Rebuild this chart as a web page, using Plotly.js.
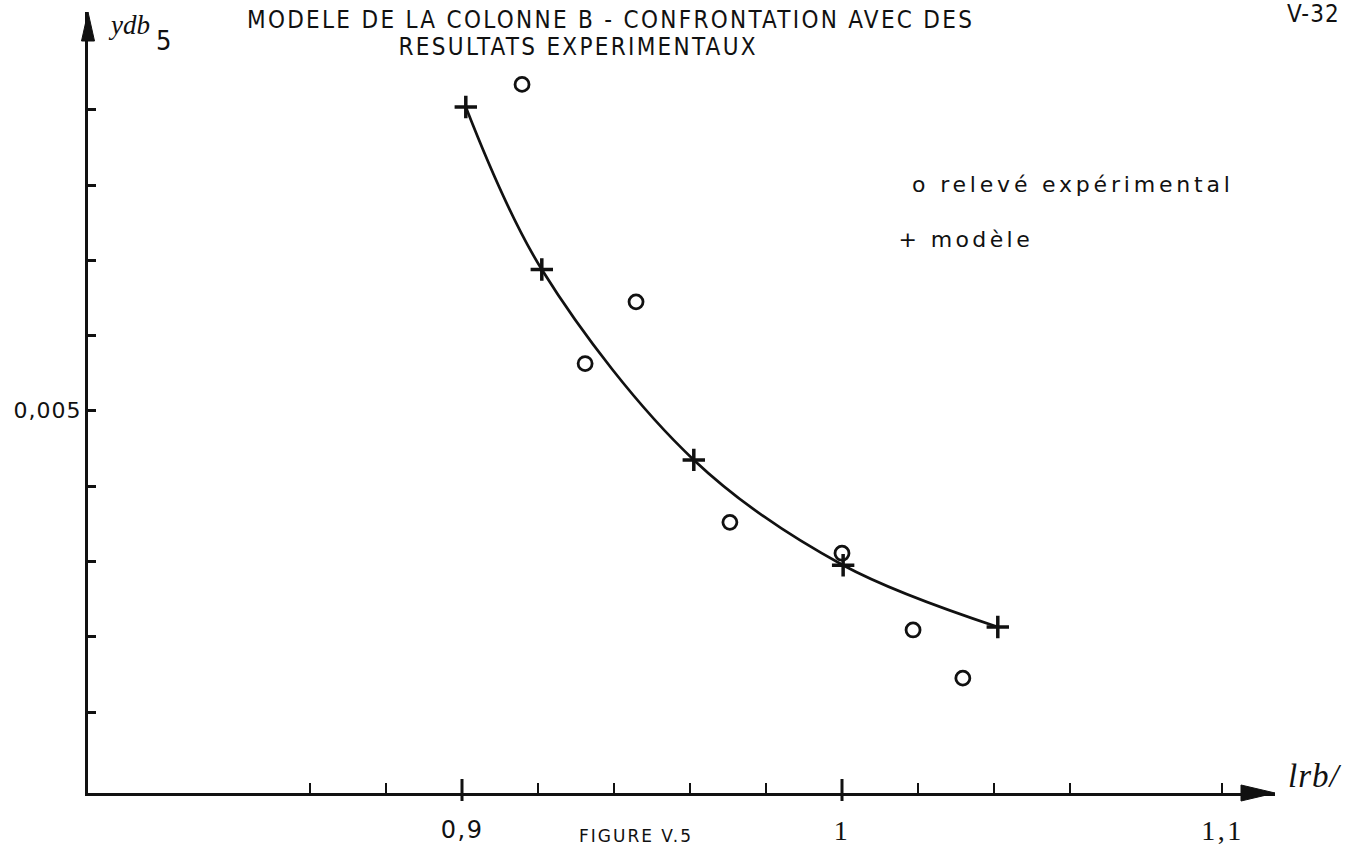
<!DOCTYPE html>
<html><head><meta charset="utf-8">
<script src="https://cdn.plot.ly/plotly-3.0.1.min.js"></script>
<style>html,body{margin:0;padding:0;background:#fff;overflow:hidden}#chart{width:1353px;height:849px}</style>
</head><body><div id="chart"></div>
<script>
// ---- data ----
const modelX = [0.901, 0.921, 0.961, 1.0003, 1.041];
const modelY = [0.00904, 0.00688, 0.00435, 0.00295, 0.00213];
const expX = [0.9158, 0.9324, 0.9458, 0.9705, 1.0, 1.0187, 1.0318];
const expY = [0.00934, 0.00563, 0.00645, 0.00352, 0.00311, 0.00209, 0.00145];
const xTickVals = [0.86, 0.88, 0.90, 0.92, 0.94, 0.96, 0.98, 1.00, 1.02, 1.04, 1.06, 1.10];
const xMajorVals = [0.9, 1.0];
const xLabelVals = [0.9, 1.0, 1.1];
const xLabelText = ['0,9', '1', '1,1'];
const yTickVals = [0.001, 0.002, 0.003, 0.004, 0.005, 0.006, 0.007, 0.008, 0.009];
const yLabelVals = [0.005];
const yLabelText = ['0,005'];
const titleLines = ['MODELE DE LA COLONNE B - CONFRONTATION AVEC DES', 'RESULTATS EXPERIMENTAUX'];
const legendLabels = ['o relevé expérimental', '+ modèle'];
const xAxisName = 'lrb/';
const yAxisName = 'ydb';
const yAxisSub = '5';
const pageRef = 'V-32';
const figureCaption = 'FIGURE V.5';

// ---- geometry ----
const W = 1353, H = 849;
const L = 88, R = 78, T = 12, B = 56;
const PW = W - L - R, PH = H - T - B;
const xRange = [0.80158, 0.80158 + PW / 3800];
const yRange = [-0.0000764, 0.010302];
const px = p => (p - L) / PW;       // page pixel x -> paper
const py = p => (H - B - p) / PH;   // page pixel y -> paper
const ink = '#111';

const traces = [
  {x: modelX, y: modelY, type: 'scatter', mode: 'lines',
   line: {shape: 'spline', smoothing: 1.0, color: ink, width: 2.7}, hoverinfo: 'skip', showlegend: false},
  {x: modelX, y: modelY, type: 'scatter', mode: 'markers',
   marker: {symbol: 'cross-thin-open', size: 16, color: ink, line: {color: ink, width: 3.5}}, showlegend: false},
  {x: expX, y: expY, type: 'scatter', mode: 'markers',
   marker: {symbol: 'circle-open', size: 14, color: ink, line: {color: ink, width: 2.8}}, showlegend: false}
];

const shapes = [
  {type: 'path', xref: 'paper', yref: 'paper',
   path: `M 1 0 L ${px(W - R - 34)} ${8 / PH} L ${px(W - R - 34)} ${-8 / PH} Z`,
   fillcolor: ink, line: {color: ink, width: 1}},
  {type: 'path', xref: 'paper', yref: 'paper',
   path: `M 0 1 L ${-6.5 / PW} ${py(T + 29)} L ${6.5 / PW} ${py(T + 29)} Z`,
   fillcolor: ink, line: {color: ink, width: 1}}
];
xMajorVals.forEach(v => shapes.push({type: 'line', xref: 'x', yref: 'paper', x0: v, x1: v,
  y0: -8 / PH, y1: 14 / PH, line: {color: ink, width: 3}}));

const annotations = [];
const spacing = [];
function txt(text, x, y, opts, ls) {
  annotations.push(Object.assign({text, x, y, xref: 'paper', yref: 'paper', showarrow: false,
    xanchor: 'center', yanchor: 'middle', font: {family: 'Liberation Sans', size: 20, color: ink}}, opts || {}));
  spacing.push(ls || 0);
}
const narrow = 'Liberation Sans Narrow, DejaVu Sans Condensed, sans-serif';
txt(titleLines[0], px(610), py(19.5), {font: {family: narrow, size: 24, color: ink}}, 2.3);
txt(titleLines[1], px(578), py(47.5), {font: {family: narrow, size: 24, color: ink}}, 2.3);
txt(pageRef, px(1314), py(14), {font: {family: narrow, size: 24, color: ink}}, 1);
txt('<i>' + yAxisName + '</i>', px(106), py(25), {xanchor: 'left', font: {family: 'Liberation Serif', size: 27, color: ink}});
txt(yAxisSub, px(154), py(40), {xanchor: 'left', font: {family: narrow, size: 27, color: ink}});
txt('<i>' + xAxisName + '</i>', px(1316), py(776), {font: {family: 'Liberation Serif', size: 33, color: ink}}, 1);
yLabelVals.forEach((v, i) => {
  annotations.push({text: yLabelText[i], x: 0, xref: 'paper', y: v, yref: 'y',
    xanchor: 'right', yanchor: 'middle', xshift: -7, showarrow: false,
    font: {family: 'DejaVu Sans', size: 22, color: ink}});
  spacing.push(1);
});
xLabelVals.forEach((v, i) => {
  annotations.push({text: xLabelText[i], x: v, xref: 'x', y: py(830), yref: 'paper',
    xanchor: 'center', yanchor: 'middle', showarrow: false,
    font: i === 0 ? {family: 'DejaVu Sans', size: 24, color: ink} : {family: 'Liberation Serif', size: 28, color: ink}});
  spacing.push(i === 0 ? 1.5 : 2.5);
});
txt(legendLabels[0], px(1073), py(185), {font: {family: 'DejaVu Sans', size: 22, color: ink}}, 3.8);
txt(legendLabels[1], px(965), py(240), {font: {family: 'DejaVu Sans', size: 22, color: ink}}, 3.4);
txt(figureCaption, px(636), py(848), {yanchor: 'bottom', font: {family: 'DejaVu Sans', size: 17, color: ink}}, 2);

// letter spacing for the typewriter-like lettering
const css = spacing.map((s, i) => s ? `#chart g.annotation[data-index="${i}"] text{letter-spacing:${s}px}` : '').join('\n');
const st = document.createElement('style'); st.textContent = css; document.head.appendChild(st);

const layout = {
  width: W, height: H,
  margin: {l: L, r: R, t: T, b: B, pad: 0},
  paper_bgcolor: '#fff', plot_bgcolor: '#fff',
  showlegend: false,
  xaxis: {range: xRange, showgrid: false, zeroline: false, showline: true, linecolor: ink, linewidth: 3,
          tickmode: 'array', tickvals: xTickVals, ticks: 'inside', ticklen: 10, tickwidth: 2.5, tickcolor: ink,
          showticklabels: false, fixedrange: true},
  yaxis: {range: yRange, showgrid: false, zeroline: false, showline: true, linecolor: ink, linewidth: 3,
          tickmode: 'array', tickvals: yTickVals, ticks: 'inside', ticklen: 8, tickwidth: 3, tickcolor: ink,
          showticklabels: false, fixedrange: true},
  shapes, annotations
};
Plotly.newPlot('chart', traces, layout, {displayModeBar: false, staticPlot: true});
</script></body></html>
